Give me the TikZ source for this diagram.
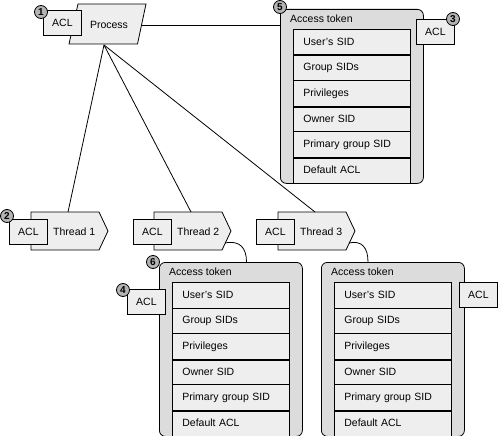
\documentclass[tikz,border=0pt]{standalone}
\usepackage{fontspec}
\setmainfont{Liberation Sans}
\definecolor{boxgray}{HTML}{EEEEEE}
\definecolor{tokgray}{HTML}{DCDCDC}
\definecolor{numgray}{HTML}{B4B4B4}
\tikzset{
  lbox/.style={draw, fill=boxgray, line width=0.8pt, inner sep=0pt},
  aclbox/.style={lbox, minimum width=38pt, minimum height=25pt, anchor=north west, font=\fontsize{10.5}{12}\selectfont},
  tokenbox/.style={draw, fill=tokgray, rounded corners=6pt, line width=0.8pt, minimum width=143pt, minimum height=174pt, anchor=north west, inner sep=0pt},
  rowbox/.style={lbox, minimum height=25.6pt, text width=97pt, inner xsep=10pt, align=left, anchor=north west, font=\fontsize{10.5}{12}\selectfont},
  lbl/.style={inner sep=0pt, font=\fontsize{10.5}{12}\selectfont},
  num/.style={circle, draw, fill=numgray, line width=0.8pt, inner sep=0pt, minimum size=13pt, font=\bfseries\fontsize{10}{10}\selectfont},
  conn/.style={line width=0.8pt}
}
\newcommand\acctoken[3]{% #1 name, #2 x, #3 y
  \node[tokenbox] (#1) at (#2,#3) {};
  \node[lbl, anchor=west] (#1t) at (#2+10,#3+10) {Access token};
  \foreach \i/\t in {0/User's SID,1/Group SIDs,2/Privileges,3/Owner SID,4/Primary group SID,5/Default ACL}{
    \node[rowbox] (#1r\i) at (#2+13,#3+20+25.6*\i) {\t};
  }
  \foreach \i in {0,2,4}{
    \draw[line width=1.8pt] (#1r\i.south west) -- (#1r\i.south east);
  }
}
\newcommand\threadshape[4]{% #1 name, #2 body x, #3 acl x, #4 label
  \draw[lbox] (#2,212) -- (#2+68,212) -- (#2+77,231) -- (#2+68,250) -- (#2,250) -- cycle;
  \coordinate (#1top) at (#2+37,212);
  \coordinate (#1low) at (#2+71,243);
  \node[aclbox] (#1acl) at (#3,219) {ACL};
  \node[lbl, anchor=west] (#1) at (#3+44,231.5) {#4};
}
\begin{document}
\begin{tikzpicture}[x=1pt,y=-1pt]
\useasboundingbox (0,0) rectangle (498,436);
% process
\draw[lbox] (78,4) -- (146,4) -- (137.5,44) -- (69,44) -- cycle;
\node[lbl] (proc) at (109,25) {Process};
\coordinate (procE) at (141.5,25);
\coordinate (procS) at (104,45);
\node[aclbox] (acl1) at (43,10) {ACL};
\node[num] (n1) at (41,12) {1};
% top token
\acctoken{tokA}{280}{9}
\node[num] (n5) at (280,7) {5};
\node[aclbox] (acl3) at (416,19) {ACL};
\node[num] (n3) at (453,19) {3};
\draw[conn] (procE) -- (procE -| tokA.west);
% threads
\threadshape{th1}{31}{9}{Thread 1}
\threadshape{th2}{154}{133}{Thread 2}
\threadshape{th3}{278}{256}{Thread 3}
\node[num] (n2) at (7,216) {2};
\draw[conn] (procS) -- (th1top);
\draw[conn] (procS) -- (th2top);
\draw[conn] (procS) -- (th3top);
% thread tokens
\acctoken{tokB}{159}{262}
\node[num] (n6) at (153,262) {6};
\node[aclbox] (acl4) at (127,289) {ACL};
\node[num] (n4) at (123,290) {4};
\acctoken{tokC}{321}{262}
\node[aclbox] (acl5) at (459,282) {ACL};
\coordinate (tokBin) at (246.5,262);
\coordinate (tokCin) at (368,262);
\draw[conn] (th2low) .. controls (240,240) and (246.5,248) .. (tokBin);
\draw[conn] (th3low) .. controls (362,240) and (368,248) .. (tokCin);
\end{tikzpicture}
\end{document}
